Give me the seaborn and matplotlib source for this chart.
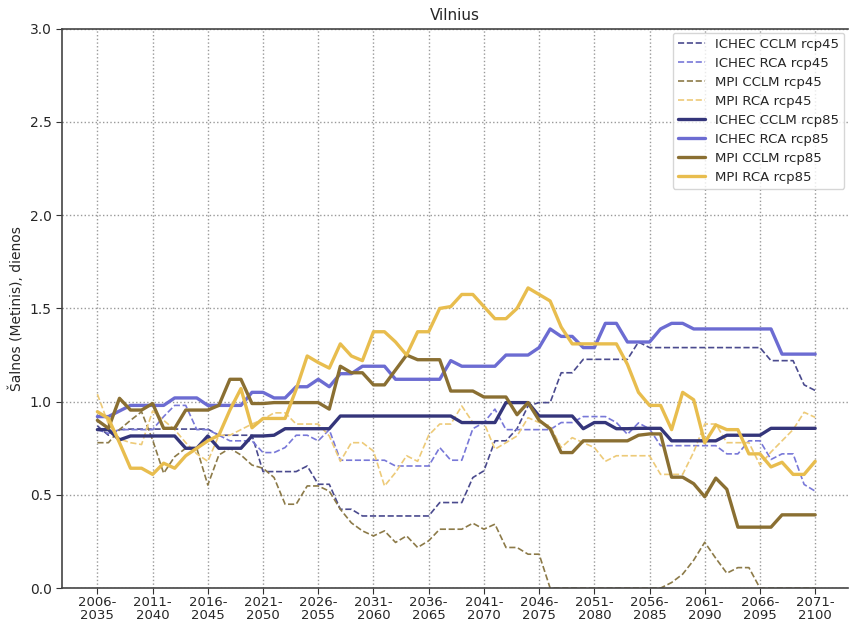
import numpy as np
import pandas as pd
import matplotlib
matplotlib.use("Agg")
import matplotlib.pyplot as plt
import seaborn as sns

start_years = list(range(2006, 2072))
periods = [f"{y}-{y+29}" for y in start_years]
tick_years = list(range(2006, 2072, 5))
tick_labels = [f"{y}-\n{y+29}" for y in tick_years]

ichec_cclm_45 = [0.87, 0.82, 0.85, 0.853, 0.853, 0.853, 0.853, 0.853, 0.853, 0.853,
                 0.853, 0.82, 0.82, 0.82, 0.82, 0.625, 0.625, 0.625, 0.625, 0.655,
                 0.557, 0.557, 0.423, 0.423, 0.387, 0.387, 0.387, 0.387, 0.387, 0.387,
                 0.387, 0.459, 0.459, 0.459, 0.593, 0.629, 0.79, 0.79, 0.855, 0.977,
                 0.995, 0.995, 1.155, 1.155, 1.227, 1.227, 1.227, 1.227, 1.227, 1.32,
                 1.29, 1.29, 1.29, 1.29, 1.29, 1.29, 1.29, 1.29, 1.29, 1.29,
                 1.29, 1.22, 1.22, 1.22, 1.09, 1.06]
ichec_rca_45 = [0.85, 0.83, 0.85, 0.85, 0.85, 0.85, 0.92, 0.98, 0.98, 0.85,
                0.85, 0.82, 0.79, 0.79, 0.79, 0.727, 0.727, 0.754, 0.82, 0.82,
                0.79, 0.85, 0.686, 0.686, 0.686, 0.686, 0.686, 0.655, 0.655, 0.655,
                0.655, 0.754, 0.686, 0.686, 0.855, 0.888, 0.96, 0.85, 0.85, 0.85,
                0.85, 0.85, 0.888, 0.888, 0.92, 0.92, 0.92, 0.888, 0.825, 0.886,
                0.854, 0.764, 0.764, 0.764, 0.764, 0.764, 0.764, 0.72, 0.72, 0.79,
                0.79, 0.69, 0.72, 0.72, 0.556, 0.52]
mpi_cclm_45 = [0.78, 0.78, 0.85, 0.90, 0.946, 0.795, 0.616, 0.705, 0.75, 0.75,
               0.553, 0.714, 0.75, 0.714, 0.66, 0.643, 0.593, 0.45, 0.45, 0.548,
               0.548, 0.52, 0.423, 0.35, 0.307, 0.28, 0.307, 0.245, 0.28, 0.218,
               0.254, 0.316, 0.316, 0.316, 0.348, 0.316, 0.343, 0.218, 0.218, 0.182,
               0.182, 0.0, 0.0, 0.0, 0.0, 0.0, 0.0, 0.0, 0.0, 0.0,
               0.0, 0.0, 0.03, 0.075, 0.15, 0.246, 0.16, 0.08, 0.11, 0.11,
               0.0, 0.0, 0.0, 0.0, 0.0, 0.0]
mpi_rca_45 = [1.04, 0.88, 0.80, 0.78, 0.77, 0.95, 0.90, 0.85, 0.78, 0.72,
              0.68, 0.82, 0.82, 0.85, 0.88, 0.905, 0.94, 0.94, 0.88, 0.88,
              0.88, 0.816, 0.68, 0.78, 0.78, 0.735, 0.548, 0.62, 0.71, 0.68,
              0.82, 0.88, 0.88, 0.977, 0.888, 0.888, 0.745, 0.78, 0.816, 0.914,
              0.888, 0.87, 0.754, 0.807, 0.78, 0.754, 0.68, 0.71, 0.71, 0.71,
              0.71, 0.61, 0.61, 0.61, 0.73, 0.88, 0.88, 0.78, 0.78, 0.78,
              0.66, 0.73, 0.79, 0.85, 0.943, 0.916]
ichec_cclm_85 = [0.85, 0.85, 0.795, 0.816, 0.816, 0.816, 0.816, 0.816, 0.75, 0.75,
                 0.816, 0.75, 0.75, 0.75, 0.816, 0.816, 0.82, 0.855, 0.855, 0.855,
                 0.855, 0.855, 0.923, 0.923, 0.923, 0.923, 0.923, 0.923, 0.923, 0.923,
                 0.923, 0.923, 0.923, 0.888, 0.888, 0.888, 0.888, 0.995, 0.995, 0.995,
                 0.923, 0.923, 0.923, 0.923, 0.855, 0.888, 0.888, 0.855, 0.855, 0.857,
                 0.857, 0.857, 0.79, 0.79, 0.79, 0.79, 0.79, 0.82, 0.82, 0.82,
                 0.82, 0.857, 0.857, 0.857, 0.857, 0.857]
ichec_rca_85 = [0.92, 0.92, 0.95, 0.98, 0.98, 0.98, 0.98, 1.02, 1.02, 1.02,
                0.98, 0.98, 0.98, 0.98, 1.05, 1.05, 1.02, 1.02, 1.08, 1.08,
                1.12, 1.08, 1.15, 1.15, 1.19, 1.19, 1.19, 1.12, 1.12, 1.12,
                1.12, 1.12, 1.22, 1.19, 1.19, 1.19, 1.19, 1.25, 1.25, 1.25,
                1.29, 1.39, 1.35, 1.35, 1.29, 1.29, 1.42, 1.42, 1.32, 1.32,
                1.32, 1.39, 1.42, 1.42, 1.39, 1.39, 1.39, 1.39, 1.39, 1.39,
                1.39, 1.39, 1.255, 1.255, 1.255, 1.255]
mpi_cclm_85 = [0.90, 0.857, 1.018, 0.955, 0.955, 0.99, 0.857, 0.857, 0.955, 0.955,
               0.955, 0.98, 1.12, 1.12, 0.99, 0.99, 0.995, 0.995, 0.995, 0.995,
               0.995, 0.96, 1.19, 1.155, 1.155, 1.09, 1.09, 1.17, 1.25, 1.225,
               1.225, 1.225, 1.057, 1.057, 1.057, 1.025, 1.025, 1.025, 0.93, 0.995,
               0.90, 0.855, 0.727, 0.727, 0.79, 0.79, 0.79, 0.79, 0.79, 0.82,
               0.827, 0.827, 0.595, 0.595, 0.56, 0.49, 0.59, 0.53, 0.327, 0.327,
               0.327, 0.327, 0.393, 0.393, 0.393, 0.393]
mpi_rca_85 = [0.946, 0.91, 0.78, 0.643, 0.643, 0.61, 0.67, 0.643, 0.71, 0.75,
              0.79, 0.82, 0.955, 1.07, 0.86, 0.91, 0.91, 0.91, 1.066, 1.245,
              1.21, 1.18, 1.31, 1.245, 1.22, 1.375, 1.375, 1.32, 1.25, 1.375,
              1.375, 1.50, 1.51, 1.575, 1.575, 1.51, 1.445, 1.445, 1.50, 1.61,
              1.575, 1.54, 1.40, 1.31, 1.31, 1.31, 1.31, 1.31, 1.20, 1.05,
              0.98, 0.98, 0.85, 1.05, 1.01, 0.78, 0.875, 0.85, 0.85, 0.72,
              0.72, 0.65, 0.675, 0.61, 0.61, 0.68]

series = [
    ("ICHEC CCLM rcp45", ichec_cclm_45, "#4a4a8e", "--", 1.2),
    ("ICHEC RCA rcp45", ichec_rca_45, "#7878d8", "--", 1.2),
    ("MPI CCLM rcp45", mpi_cclm_45, "#8c7a48", "--", 1.2),
    ("MPI RCA rcp45", mpi_rca_45, "#edca78", "--", 1.2),
    ("ICHEC CCLM rcp85", ichec_cclm_85, "#34357a", "-", 2.4),
    ("ICHEC RCA rcp85", ichec_rca_85, "#6c6cd2", "-", 2.4),
    ("MPI CCLM rcp85", mpi_cclm_85, "#8a6f32", "-", 2.4),
    ("MPI RCA rcp85", mpi_rca_85, "#e8bd4e", "-", 2.4),
]

sns.set_style("white")
plt.rcParams['font.family'] = ['DejaVu Sans']

fig = plt.figure(figsize=(8.5, 6.25), dpi=100)
ax = fig.add_axes([0.073, 0.059, 0.925, 0.895])

x = np.arange(len(periods))
for name, vals, color, ls, lw in series:
    df = pd.DataFrame({"x": x, "y": vals})
    sns.lineplot(data=df, x="x", y="y", ax=ax, color=color, linestyle=ls,
                 linewidth=lw, label=name)

ax.set_xlim(-3.2, 68.0)
ax.set_ylim(0, 3.0)
ax.set_yticks(np.arange(0, 3.01, 0.5))
ax.set_xticks([y - 2006 for y in tick_years])
ax.set_xticklabels(tick_labels, fontsize=9.5, linespacing=0.95)
ax.tick_params(axis='y', labelsize=10)
ax.tick_params(axis='both', length=4, color='#333333', direction='out', bottom=True, left=True)
ax.tick_params(axis='x', pad=2)
ax.grid(True, linestyle=':', color='#999999', linewidth=1.0)
ax.set_xlabel("")
ax.set_ylabel("Šalnos (Metinis), dienos", fontsize=10)
ax.set_title("Vilnius", fontsize=11)
for s in ["left", "bottom", "top"]:
    ax.spines[s].set_color('#444444')
    ax.spines[s].set_linewidth(1.2)
ax.spines["right"].set_visible(False)

leg = ax.legend(loc="upper right", fontsize=9.5, frameon=True, handlelength=2.0,
                borderaxespad=0.3, labelspacing=0.45)
leg.get_frame().set_edgecolor('#cccccc')

fig.savefig("out.png", dpi=100)
